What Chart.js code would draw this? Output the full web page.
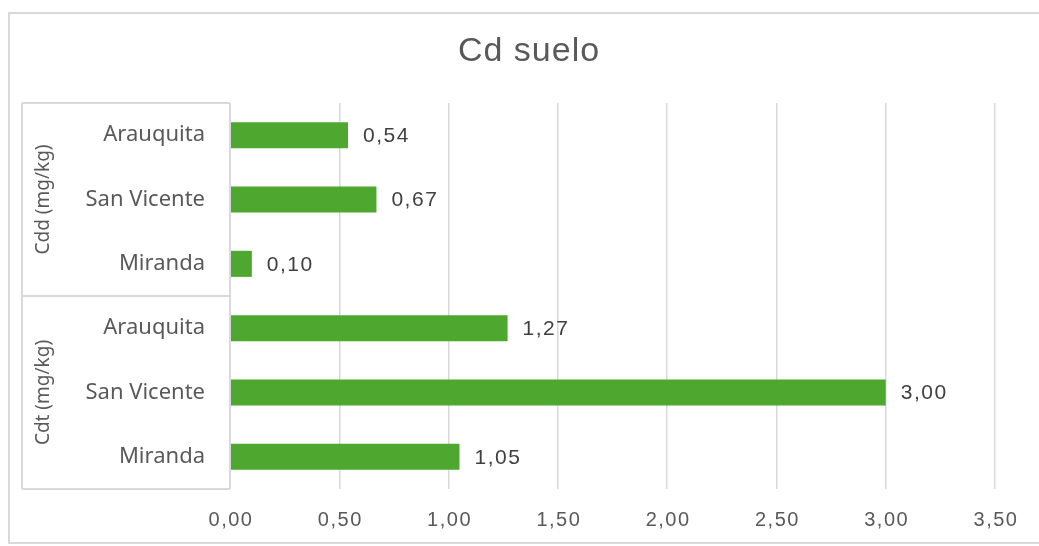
<!DOCTYPE html>
<html>
<head>
<meta charset="utf-8">
<title>Cd suelo</title>
<script src="https://cdn.jsdelivr.net/npm/chart.js@4/dist/chart.umd.min.js"></script>
<style>
  body { margin: 0; background: #fff; }
  canvas { display: block; }
</style>
</head>
<body>
<canvas id="cdChart" width="1039" height="546"></canvas>
<script>
const sites = ["Arauquita", "San Vicente", "Miranda", "Arauquita", "San Vicente", "Miranda"];
const cdValues = [0.54, 0.67, 0.10, 1.27, 3.00, 1.05];
const groupNames = ["Cdd (mg/kg)", "Cdt (mg/kg)"];
const groupSizes = [3, 3];
const xTicks = [0, 0.5, 1, 1.5, 2, 2.5, 3, 3.5];
const chartTitle = "Cd suelo";

const GRID = "#d9d9d9";
const TEXT = "#595959";

function fmt(v) {
  return v.toFixed(2).replace(".", ",");
}

// outer frame, title, group box with rotated group names, x labels, value labels
const extras = {
  id: "extras",
  beforeDraw(chart) {
    const ctx = chart.ctx;
    ctx.save();
    ctx.strokeStyle = GRID;
    ctx.lineWidth = 2;
    ctx.strokeRect(9, 13, 1040, 530);

    ctx.fillStyle = TEXT;
    ctx.font = "34px 'Liberation Sans'";
    ctx.letterSpacing = "1px";
    ctx.textAlign = "center";
    ctx.textBaseline = "middle";
    ctx.fillText(chartTitle, 529, 52);
    ctx.restore();
  },
  afterDraw(chart) {
    const ctx = chart.ctx;
    const x = chart.scales.x;
    const y = chart.scales.y;
    const area = chart.chartArea;
    const boxLeft = 22;

    ctx.save();
    ctx.strokeStyle = GRID;
    ctx.lineWidth = 2;

    // horizontal separators
    let lines = [area.top];
    let idx = 0;
    groupSizes.forEach(n => {
      idx += n;
      if (idx < sites.length) {
        lines.push((y.getPixelForValue(idx - 1) + y.getPixelForValue(idx)) / 2);
      }
    });
    lines.push(area.bottom);
    ctx.beginPath();
    lines.forEach(ly => {
      ctx.moveTo(boxLeft, Math.round(ly));
      ctx.lineTo(area.left, Math.round(ly));
    });
    ctx.moveTo(boxLeft, area.top);
    ctx.lineTo(boxLeft, area.bottom);
    ctx.moveTo(area.left, area.top);
    ctx.lineTo(area.left, area.bottom);
    ctx.stroke();

    // group names
    ctx.fillStyle = TEXT;
    ctx.font = "19px 'Noto Sans'";
    ctx.textAlign = "center";
    ctx.textBaseline = "middle";
    let start = 0;
    groupSizes.forEach((n, g) => {
      const cy = (y.getPixelForValue(start) + y.getPixelForValue(start + n - 1)) / 2;
      ctx.save();
      ctx.translate(44, cy);
      ctx.rotate(-Math.PI / 2);
      ctx.fillText(groupNames[g], 0, 0);
      ctx.restore();
      start += n;
    });

    // x tick labels
    ctx.font = "20px 'Liberation Sans'";
    ctx.letterSpacing = "1.5px";
    xTicks.forEach(v => {
      ctx.fillText(fmt(v), x.getPixelForValue(v) + 1, 520);
    });

    // value labels
    const meta = chart.getDatasetMeta(0);
    ctx.fillStyle = "#404040";
    ctx.font = "21px 'Liberation Sans'";
    ctx.textAlign = "left";
    meta.data.forEach((bar, i) => {
      ctx.fillText(fmt(cdValues[i]), bar.x + 15, bar.y + 1);
    });
    ctx.restore();
  }
};

new Chart(document.getElementById("cdChart"), {
  type: "bar",
  data: {
    labels: sites,
    datasets: [{
      data: cdValues,
      backgroundColor: "#4ea72e",
      barPercentage: 0.81,
      categoryPercentage: 0.5
    }]
  },
  options: {
    indexAxis: "y",
    responsive: false,
    animation: false,
    layout: { padding: { left: 0, right: 44, top: 103, bottom: 0 } },
    plugins: {
      legend: { display: false },
      tooltip: { enabled: false },
      title: { display: false }
    },
    scales: {
      x: {
        min: 0,
        max: 3.5,
        afterBuildTicks(scale) {
          scale.ticks = xTicks.map(v => ({ value: v }));
        },
        afterFit(scale) {
          scale.height = 57;
        },
        grid: { color: GRID, lineWidth: 1.5, drawTicks: false },
        border: { display: false },
        ticks: { display: false }
      },
      y: {
        afterFit(scale) {
          scale.width = 230;
        },
        grid: { display: false, drawTicks: false },
        border: { display: false },
        ticks: {
          padding: 25,
          color: TEXT,
          font: { family: "'Noto Sans'", size: 22 }
        }
      }
    }
  },
  plugins: [extras]
});
</script>
</body>
</html>
